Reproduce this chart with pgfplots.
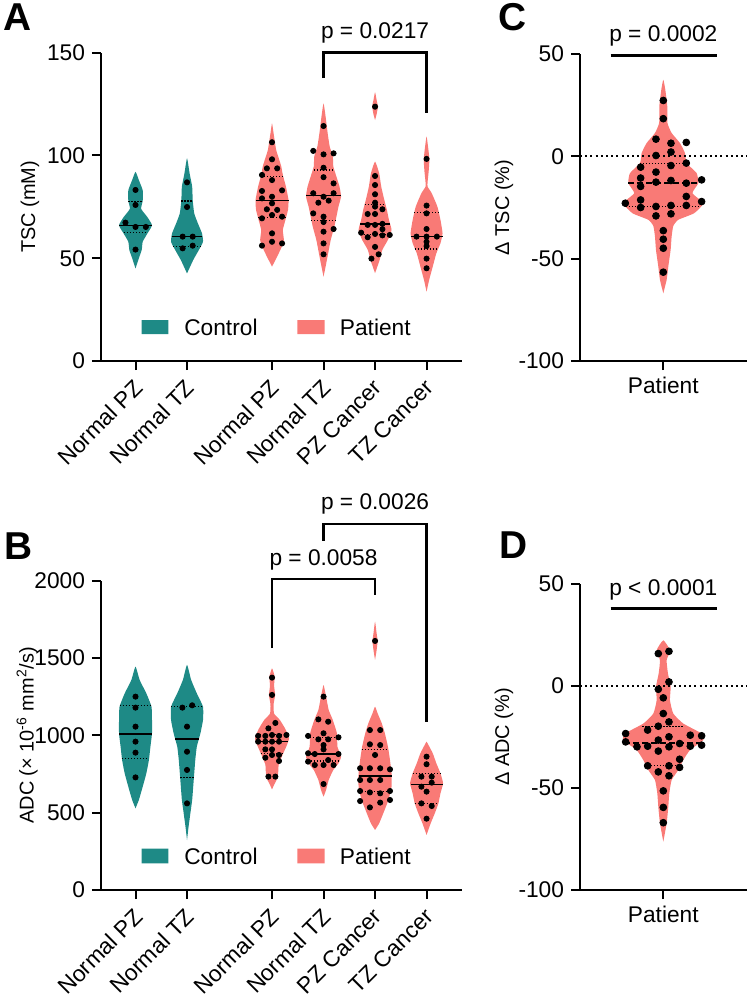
\documentclass[border=0pt]{standalone}
\usepackage{fontspec}
\setmainfont{Liberation Sans}
\usepackage{pgfplots}
\pgfplotsset{compat=1.18}
\usepackage{pgfplotstable}
\definecolor{ctrl}{HTML}{1E8A86}
\definecolor{pat}{HTML}{F97A76}
\newcommand\fsz{\fontsize{11.4}{13.6}\selectfont}
\newcommand\lsz{\bfseries\fontsize{19.5}{22}\selectfont}

% violin outlines as closed polygons: d = offset from the category centre, y = value
\pgfplotstableread[row sep=\\]{d y\\
0 45\\ 0.065 50\\ 0.12 54\\ 0.14 58\\ 0.23 62\\ 0.32 66\\ 0.23 70\\ 0.11 74\\ 0.14 78\\ 0.14 83\\ 0.065 88\\ 0 92\\
-0.065 88\\ -0.14 83\\ -0.14 78\\ -0.11 74\\ -0.23 70\\ -0.32 66\\ -0.23 62\\ -0.14 58\\ -0.12 54\\ -0.065 50\\ 0 45\\
}\aCPZ
\pgfplotstableread[row sep=\\]{d y\\
0 42.6\\ 0.12 49.1\\ 0.23 54\\ 0.31 58\\ 0.29 62.1\\ 0.21 67\\ 0.14 71.8\\ 0.11 78.3\\ 0.10 84.8\\ 0.05 91.3\\ 0 98.6\\
-0.05 91.3\\ -0.10 84.8\\ -0.11 78.3\\ -0.14 71.8\\ -0.21 67\\ -0.29 62.1\\ -0.31 58\\ -0.23 54\\ -0.12 49.1\\ 0 42.6\\
}\aCTZ
\pgfplotstableread[row sep=\\]{d y\\
0 45.9\\ 0.10 50.8\\ 0.19 55.6\\ 0.23 58.9\\ 0.21 63.7\\ 0.26 68.6\\ 0.31 73.5\\ 0.32 78.3\\ 0.27 84.8\\ 0.21 90.5\\ 0.18 94.6\\ 0.14 97.9\\ 0.08 102.7\\ 0.03 110.8\\ 0 115.6\\
-0.03 110.8\\ -0.08 102.7\\ -0.14 97.9\\ -0.18 94.6\\ -0.21 90.5\\ -0.27 84.8\\ -0.32 78.3\\ -0.31 73.5\\ -0.26 68.6\\ -0.21 63.7\\ -0.23 58.9\\ -0.19 55.6\\ -0.10 50.8\\ 0 45.9\\
}\aNPZ
\pgfplotstableread[row sep=\\]{d y\\
0 41\\ 0.04 45.9\\ 0.09 52.4\\ 0.14 58.9\\ 0.21 65.4\\ 0.25 70.2\\ 0.29 75.1\\ 0.34 80\\ 0.31 84.8\\ 0.25 89.7\\ 0.19 94.6\\ 0.18 99.5\\ 0.12 104.3\\ 0.08 110.8\\ 0.04 118.9\\ 0 125.3\\
-0.04 118.9\\ -0.08 110.8\\ -0.12 104.3\\ -0.18 99.5\\ -0.19 94.6\\ -0.25 89.7\\ -0.31 84.8\\ -0.34 80\\ -0.29 75.1\\ -0.25 70.2\\ -0.21 65.4\\ -0.14 58.9\\ -0.09 52.4\\ -0.04 45.9\\ 0 41\\
}\aNTZ
\pgfplotstableread[row sep=\\]{d y\\
0 42.7\\ 0.09 49.2\\ 0.14 54\\ 0.25 58.9\\ 0.32 63.7\\ 0.27 68.6\\ 0.23 73.5\\ 0.18 78.3\\ 0.12 84.8\\ 0.08 91.3\\ 0 97\\
-0.08 91.3\\ -0.12 84.8\\ -0.18 78.3\\ -0.23 73.5\\ -0.27 68.6\\ -0.32 63.7\\ -0.25 58.9\\ -0.14 54\\ -0.09 49.2\\ 0 42.7\\
}\aPZC
\pgfplotstableread[row sep=\\]{d y\\
0 117.2\\ 0.03 120\\ 0.055 123.7\\ 0.03 127\\ 0 130.7\\ -0.03 127\\ -0.055 123.7\\ -0.03 120\\ 0 117.2\\
}\aPZCo
\pgfplotstableread[row sep=\\]{d y\\
0 33.7\\ 0.05 39.4\\ 0.12 45.9\\ 0.19 52.4\\ 0.27 57.3\\ 0.31 62.1\\ 0.27 68.6\\ 0.21 75.1\\ 0.10 81.6\\ 0.02 84.8\\ 0.02 87\\ 0.04 92\\ 0.055 98\\ 0.03 104\\ 0 109.2\\
-0.03 104\\ -0.055 98\\ -0.04 92\\ -0.02 87\\ -0.02 84.8\\ -0.10 81.6\\ -0.21 75.1\\ -0.27 68.6\\ -0.31 62.1\\ -0.27 57.3\\ -0.19 52.4\\ -0.12 45.9\\ -0.05 39.4\\ 0 33.7\\
}\aTZC
\pgfplotstableread[row sep=\\]{d y\\
0 528\\ 0.065 582\\ 0.14 668\\ 0.21 754\\ 0.26 840\\ 0.29 927\\ 0.32 1013\\ 0.32 1099\\ 0.31 1185\\ 0.21 1271\\ 0.08 1358\\ 0 1444\\
-0.08 1358\\ -0.21 1271\\ -0.31 1185\\ -0.32 1099\\ -0.32 1013\\ -0.29 927\\ -0.26 840\\ -0.21 754\\ -0.14 668\\ -0.065 582\\ 0 528\\
}\bCPZ
\pgfplotstableread[row sep=\\]{d y\\
0 323\\ 0.03 409\\ 0.065 496\\ 0.10 582\\ 0.12 668\\ 0.14 754\\ 0.16 840\\ 0.19 927\\ 0.26 1013\\ 0.31 1099\\ 0.31 1185\\ 0.19 1271\\ 0.08 1358\\ 0 1455\\
-0.08 1358\\ -0.19 1271\\ -0.31 1185\\ -0.31 1099\\ -0.26 1013\\ -0.19 927\\ -0.16 840\\ -0.14 754\\ -0.12 668\\ -0.10 582\\ -0.065 496\\ -0.03 409\\ 0 323\\
}\bCTZ
\pgfplotstableread[row sep=\\]{d y\\
0 650\\ 0.04 680\\ 0.10 720\\ 0.12 760\\ 0.13 810\\ 0.20 870\\ 0.28 930\\ 0.33 980\\ 0.26 1040\\ 0.15 1100\\ 0.04 1140\\ 0.03 1200\\ 0.06 1260\\ 0.04 1320\\ 0.05 1380\\ 0 1433\\
-0.05 1380\\ -0.04 1320\\ -0.06 1260\\ -0.03 1200\\ -0.04 1140\\ -0.15 1100\\ -0.26 1040\\ -0.33 980\\ -0.28 930\\ -0.20 870\\ -0.13 810\\ -0.12 760\\ -0.10 720\\ -0.04 680\\ 0 650\\
}\bNPZ
\pgfplotstableread[row sep=\\]{d y\\
0 603\\ 0.05 647\\ 0.10 711\\ 0.19 776\\ 0.29 819\\ 0.34 862\\ 0.27 927\\ 0.26 1013\\ 0.18 1099\\ 0.10 1164\\ 0.05 1250\\ 0.01 1315\\ 0 1325\\
-0.01 1315\\ -0.05 1250\\ -0.10 1164\\ -0.18 1099\\ -0.26 1013\\ -0.27 927\\ -0.34 862\\ -0.29 819\\ -0.19 776\\ -0.10 711\\ -0.05 647\\ 0 603\\
}\bNTZ
\pgfplotstableread[row sep=\\]{d y\\
0 388\\ 0.08 431\\ 0.16 496\\ 0.26 582\\ 0.32 668\\ 0.32 754\\ 0.29 840\\ 0.25 927\\ 0.19 1013\\ 0.13 1078\\ 0.05 1142\\ 0 1185\\
-0.05 1142\\ -0.13 1078\\ -0.19 1013\\ -0.25 927\\ -0.29 840\\ -0.32 754\\ -0.32 668\\ -0.26 582\\ -0.16 496\\ -0.08 431\\ 0 388\\
}\bPZC
\pgfplotstableread[row sep=\\]{d y\\
0 1487\\ 0.03 1550\\ 0.05 1610\\ 0.03 1660\\ 0 1735\\ -0.03 1660\\ -0.05 1610\\ -0.03 1550\\ 0 1487\\
}\bPZCo
\pgfplotstableread[row sep=\\]{d y\\
0 356\\ 0.08 431\\ 0.16 496\\ 0.23 560\\ 0.27 625\\ 0.32 690\\ 0.27 754\\ 0.19 819\\ 0.12 884\\ 0.02 948\\ 0 959\\
-0.02 948\\ -0.12 884\\ -0.19 819\\ -0.27 754\\ -0.32 690\\ -0.27 625\\ -0.23 560\\ -0.16 496\\ -0.08 431\\ 0 356\\
}\bTZC
\pgfplotstableread[row sep=\\]{d y\\
0 -66.9\\ 0.04 -60.4\\ 0.06 -53.9\\ 0.088 -45.7\\ 0.10 -39.2\\ 0.12 -34\\ 0.18 -31\\ 0.37 -27.8\\ 0.48 -22.9\\ 0.35 -18\\ 0.42 -13.1\\ 0.40 -8.2\\ 0.28 -3.3\\ 0.26 1.6\\ 0.20 6.5\\ 0.10 11.4\\ 0.05 16.3\\ 0.048 24.4\\ 0.024 32.6\\ 0 37.4\\
-0.024 32.6\\ -0.048 24.4\\ -0.05 16.3\\ -0.10 11.4\\ -0.20 6.5\\ -0.26 1.6\\ -0.28 -3.3\\ -0.40 -8.2\\ -0.42 -13.1\\ -0.35 -18\\ -0.48 -22.9\\ -0.37 -27.8\\ -0.18 -31\\ -0.12 -34\\ -0.10 -39.2\\ -0.088 -45.7\\ -0.06 -53.9\\ -0.04 -60.4\\ 0 -66.9\\
}\cDT
\pgfplotstableread[row sep=\\]{d y\\
0 -76.3\\ 0.04 -67.3\\ 0.06 -59.2\\ 0.072 -52.6\\ 0.10 -46.1\\ 0.18 -41.2\\ 0.24 -36.3\\ 0.32 -31.4\\ 0.48 -26.5\\ 0.46 -23.3\\ 0.24 -18.4\\ 0.12 -13.5\\ 0.08 -7\\ 0.088 -0.4\\ 0.056 6.1\\ 0.04 12.6\\ 0.08 17.5\\ 0 22.4\\
-0.08 17.5\\ -0.04 12.6\\ -0.056 6.1\\ -0.088 -0.4\\ -0.08 -7\\ -0.12 -13.5\\ -0.24 -18.4\\ -0.46 -23.3\\ -0.48 -26.5\\ -0.32 -31.4\\ -0.24 -36.3\\ -0.18 -41.2\\ -0.10 -46.1\\ -0.072 -52.6\\ -0.06 -59.2\\ -0.04 -67.3\\ 0 -76.3\\
}\dDA

\newcommand{\violin}[3]{%
  \addplot[fill=#3, draw=none, smooth, tension=0.3, forget plot] table[x expr=#1+\thisrow{d}, y=y] {#2};
}

\pgfplotsset{
  panel/.style={
    scale only axis, clip=false,
    axis lines*=left, axis line style={-, line width=1bp, black},
    tick style={line width=1bp, black}, tick align=outside,
    major tick length=4.5bp,
    every tick label/.append style={font=\fsz},
    label style={font=\fsz},
    /pgf/number format/assume math mode=true,
    /pgf/number format/1000 sep={},
    enlargelimits=false,
  },
  med/.style={line width=0.75bp, black, forget plot},
  mdash/.style={line width=0.75bp, black, dash pattern=on 3bp off 1.5bp, forget plot},
  qrt/.style={line width=0.55bp, black, dash pattern=on 0.6bp off 0.9bp, forget plot},
  dots/.style={only marks, mark=*, mark size=1.3bp, black, forget plot},
  bigdots/.style={only marks, mark=*, mark size=1.7bp, black, forget plot},
  brk/.style={line width=1.2bp, black, sharp plot, forget plot},
  cats/.style={xmin=0, xmax=7,
    xtick={0.67,1.67,3.32,4.32,5.32,6.32},
    xticklabels={Normal PZ, Normal TZ, Normal PZ, Normal TZ, PZ Cancer, TZ Cancer},
    xticklabel style={xshift=-1.5bp, yshift=-2.5bp, rotate=45, anchor=north east, inner sep=1bp},
  },
}

\begin{document}
\begin{tikzpicture}
\path[use as bounding box] (0,0) rectangle (375bp,-499bp);

% ---------------- Panel A ----------------
\begin{axis}[panel, cats, at={(50.5bp,-180.5bp)}, anchor=south west,
  width=180.3bp, height=154.2bp, ymin=0, ymax=150, ytick={0,50,100,150},
  ylabel={TSC (mM)},
  every axis y label/.style={at={(axis description cs:-0.197,0.5)}, rotate=90, anchor=center}]
\violin{0.67}{\aCPZ}{ctrl}
\violin{1.67}{\aCTZ}{ctrl}
\violin{3.32}{\aNPZ}{pat}
\violin{4.32}{\aNTZ}{pat}
\violin{5.32}{\aPZC}{pat}
\violin{5.32}{\aPZCo}{pat}
\violin{6.32}{\aTZC}{pat}
\addplot[med] coordinates {(0.35,65.8) (0.99,65.8)};
\addplot[qrt] coordinates {(0.53,77.7) (0.81,77.7)};
\addplot[qrt] coordinates {(0.45,62.4) (0.89,62.4)};
\addplot[med] coordinates {(1.37,60.5) (1.97,60.5)};
\addplot[qrt] coordinates {(1.56,77.8) (1.78,77.8)};
\addplot[qrt] coordinates {(1.40,55.9) (1.94,55.9)};
\addplot[med] coordinates {(3.00,78.0) (3.64,78.0)};
\addplot[qrt] coordinates {(3.11,89.8) (3.53,89.8)};
\addplot[qrt] coordinates {(3.05,69.7) (3.59,69.7)};
\addplot[med] coordinates {(3.98,80.4) (4.66,80.4)};
\addplot[qrt] coordinates {(4.13,92.9) (4.51,92.9)};
\addplot[qrt] coordinates {(4.08,68.2) (4.56,68.2)};
\addplot[med] coordinates {(5.03,66.7) (5.61,66.7)};
\addplot[qrt] coordinates {(5.12,76.3) (5.52,76.3)};
\addplot[qrt] coordinates {(5.04,61.4) (5.60,61.4)};
\addplot[med] coordinates {(6.01,60.5) (6.63,60.5)};
\addplot[qrt] coordinates {(6.08,72.3) (6.56,72.3)};
\addplot[qrt] coordinates {(6.09,54.5) (6.55,54.5)};
\addplot[dots] coordinates {(0.67,83.2) (0.67,75.9) (0.475,67.3) (0.67,65.2) (0.87,65.2) (0.67,54.2)};
\addplot[dots] coordinates {(1.67,86.9) (1.67,74.9) (1.585,60.5) (1.78,60.5) (1.585,54.8) (1.78,56.1)};
\addplot[dots] coordinates {(3.32,106.4) (3.32,98.1) (3.22,93.7) (3.42,93.7) (3.125,90.5) (3.32,88.0) (3.125,82.7) (3.515,83.0) (3.125,79.1) (3.32,79.9) (3.32,76.7) (3.22,73.8) (3.42,73.5) (3.32,71.0) (3.515,70.2) (3.125,69.4) (3.32,62.1) (3.32,58.0) (3.125,56.1) (3.515,57.2)};
\addplot[dots] coordinates {(4.32,114.3) (4.12,102.2) (4.32,100.5) (4.515,101.0) (4.32,94.0) (4.32,89.4) (4.515,86.4) (4.12,81.6) (4.32,79.9) (4.515,81.6) (4.42,78.0) (4.22,77.0) (4.12,71.8) (4.32,70.2) (4.32,67.6) (4.515,64.2) (4.32,62.9) (4.32,57.2) (4.32,51.9)};
\addplot[dots] coordinates {(5.32,123.7) (5.32,90.0) (5.32,85.6) (5.32,81.1) (5.32,77.0) (5.32,75.1) (5.463,73.8) (5.177,71.5) (5.32,71.5) (5.177,66.2) (5.32,66.2) (5.463,66.7) (5.05,62.4) (5.177,60.2) (5.32,61.8) (5.463,64.1) (5.463,61.1) (5.605,61.3) (5.32,55.5) (5.39,51.9) (5.25,49.8)};
\addplot[dots] coordinates {(6.32,98.3) (6.32,75.6) (6.32,71.8) (6.32,64.2) (6.125,60.5) (6.32,60.5) (6.52,60.5) (6.32,58.0) (6.32,55.9) (6.32,49.8) (6.32,45.1)};
\addplot[brk] coordinates {(4.32,137.6) (4.32,150) (6.32,150) (6.32,120.5)};
\node[font=\fsz] at (axis cs:5.32,159.6) {p = 0.0217};
% legend
\addplot[fill=ctrl, draw=none, forget plot] coordinates {(0.79,13.1) (1.31,13.1) (1.31,19.9) (0.79,19.9) (0.79,13.1)};
\node[font=\fsz, anchor=west, inner sep=0pt] at (axis cs:1.61,16.5) {Control};
\addplot[fill=pat, draw=none, forget plot] coordinates {(3.81,13.1) (4.34,13.1) (4.34,19.9) (3.81,19.9) (3.81,13.1)};
\node[font=\fsz, anchor=west, inner sep=0pt] at (axis cs:4.63,16.5) {Patient};
\end{axis}

% ---------------- Panel B ----------------
\begin{axis}[panel, cats, at={(50.5bp,-445bp)}, anchor=south west,
  width=180.3bp, height=154.7bp, ymin=0, ymax=2000, ytick={0,500,1000,1500,2000},
  ylabel={ADC (× 10\textsuperscript{-6} mm\textsuperscript{2}/s)},
  every axis y label/.style={at={(axis description cs:-0.205,0.5)}, rotate=90, anchor=center}]
\violin{0.67}{\bCPZ}{ctrl}
\violin{1.67}{\bCTZ}{ctrl}
\violin{3.32}{\bNPZ}{pat}
\violin{4.32}{\bNTZ}{pat}
\violin{5.32}{\bPZC}{pat}
\violin{5.32}{\bPZCo}{pat}
\violin{6.32}{\bTZC}{pat}
\addplot[med] coordinates {(0.35,1008) (0.99,1008)};
\addplot[qrt] coordinates {(0.36,1194) (0.98,1194)};
\addplot[qrt] coordinates {(0.41,849) (0.93,849)};
\addplot[med] coordinates {(1.44,976) (1.90,976)};
\addplot[qrt] coordinates {(1.36,1185) (1.98,1185)};
\addplot[qrt] coordinates {(1.54,726) (1.80,726)};
\addplot[med] coordinates {(3.01,959) (3.63,959)};
\addplot[qrt] coordinates {(3.02,1006) (3.62,1006)};
\addplot[qrt] coordinates {(3.10,884) (3.54,884)};
\addplot[med] coordinates {(4.00,879) (4.64,879)};
\addplot[qrt] coordinates {(4.06,985) (4.58,985)};
\addplot[qrt] coordinates {(4.01,834) (4.63,834)};
\addplot[med] coordinates {(5.00,737) (5.64,737)};
\addplot[qrt] coordinates {(5.06,909) (5.58,909)};
\addplot[qrt] coordinates {(5.00,636) (5.64,636)};
\addplot[med] coordinates {(6.01,681) (6.63,681)};
\addplot[qrt] coordinates {(6.05,754) (6.59,754)};
\addplot[qrt] coordinates {(6.09,560) (6.55,560)};
\addplot[dots] coordinates {(0.67,1250) (0.67,1179) (0.67,1056) (0.67,959) (0.67,888) (0.67,728)};
\addplot[dots] coordinates {(1.58,1179) (1.77,1194) (1.67,1056) (1.67,894) (1.67,776) (1.67,560)};
\addplot[dots] coordinates {(3.32,1373) (3.32,1261) (3.385,1080) (3.25,1045) (3.05,996) (3.19,996) (3.32,1002) (3.456,996) (3.6,1002) (3.05,959) (3.19,959) (3.32,959) (3.456,959) (3.19,909) (3.32,909) (3.19,855) (3.32,873) (3.456,873) (3.456,834) (3.25,733) (3.385,733)};
\addplot[dots] coordinates {(4.32,1250) (4.22,1103) (4.41,1088) (4.32,1013) (4.02,996) (4.61,987) (4.22,974) (4.41,974) (4.32,937) (4.02,884) (4.15,879) (4.32,909) (4.61,879) (4.02,830) (4.15,808) (4.32,808) (4.515,808) (4.41,840) (4.32,685)};
\addplot[dots] coordinates {(5.32,1610) (5.22,1034) (5.42,1034) (5.22,942) (5.42,937) (5.32,873) (5.03,787) (5.22,787) (5.42,787) (5.61,780) (5.03,711) (5.22,711) (5.42,711) (5.03,640) (5.22,631) (5.42,625) (5.61,640) (5.03,575) (5.61,582) (5.42,565) (5.22,534)};
\addplot[dots] coordinates {(6.32,862) (6.32,813) (6.22,733) (6.42,733) (6.42,694) (6.22,668) (6.32,636) (6.22,560) (6.42,543) (6.32,461)};
\addplot[brk] coordinates {(3.32,1563) (3.32,2009) (5.32,2009) (5.32,1907)};
\node[font=\fsz] at (axis cs:4.32,2134) {p = 0.0058};
\addplot[brk] coordinates {(4.32,2257) (4.32,2364) (6.32,2364) (6.32,1088)};
\node[font=\fsz] at (axis cs:5.32,2496) {p = 0.0026};
\addplot[fill=ctrl, draw=none, forget plot] coordinates {(0.79,172) (1.31,172) (1.31,268) (0.79,268) (0.79,172)};
\node[font=\fsz, anchor=west, inner sep=0pt] at (axis cs:1.61,220) {Control};
\addplot[fill=pat, draw=none, forget plot] coordinates {(3.81,172) (4.34,172) (4.34,268) (3.81,268) (3.81,172)};
\node[font=\fsz, anchor=west, inner sep=0pt] at (axis cs:4.63,220) {Patient};
\end{axis}

% ---------------- Panel C ----------------
\begin{axis}[panel, at={(290bp,-180.5bp)}, anchor=south west,
  width=83.3bp, height=153.5bp, xmin=0, xmax=2, ymin=-100, ymax=50,
  ytick={-100,-50,0,50}, xtick={1}, xticklabels={Patient},
  ylabel={Δ TSC (\%)},
  every axis y label/.style={at={(axis description cs:-0.456,0.5)}, rotate=90, anchor=center}]
\violin{1}{\cDT}{pat}
\addplot[line width=1bp, black, dash pattern=on 1bp off 1.6bp, forget plot] coordinates {(0,0) (2,0)};
\addplot[mdash] coordinates {(0.58,-13.1) (1.42,-13.1)};
\addplot[qrt] coordinates {(0.72,-3.3) (1.28,-3.3)};
\addplot[qrt] coordinates {(0.55,-24.5) (1.45,-24.5)};
\addplot[bigdots] coordinates {(1,27.3) (1,18.4) (0.912,8.4) (1.092,6.4) (1.276,6.8) (1.092,2.1) (0.912,0.4) (1.276,-3.3) (1.092,-4.5) (0.728,-5.3) (0.912,-7.7) (0.728,-10.6) (0.912,-12.6) (1.092,-11.8) (1.276,-13.1) (1.46,-11.5) (0.728,-14.7) (1.276,-19.6) (0.728,-21.3) (0.544,-22.9) (1.46,-22.1) (0.728,-25.0) (0.912,-24.5) (1.092,-24.0) (1.276,-24.0) (0.912,-29.1) (1.092,-28.1) (1,-36.3) (1,-40.5) (1,-44.9) (1,-56.6)};
\addplot[brk] coordinates {(0.368,49.2) (1.64,49.2)};
\node[font=\fsz] at (axis cs:1,58.6) {p = 0.0002};
\end{axis}

% ---------------- Panel D ----------------
\begin{axis}[panel, at={(290bp,-445bp)}, anchor=south west,
  width=83.3bp, height=153bp, xmin=0, xmax=2, ymin=-100, ymax=50,
  ytick={-100,-50,0,50}, xtick={1}, xticklabels={Patient},
  ylabel={Δ ADC (\%)},
  every axis y label/.style={at={(axis description cs:-0.456,0.5)}, rotate=90, anchor=center}]
\violin{1}{\dDA}{pat}
\addplot[line width=1bp, black, dash pattern=on 1bp off 1.6bp, forget plot] coordinates {(0,0) (2,0)};
\addplot[mdash] coordinates {(0.53,-27.9) (1.47,-27.9)};
\addplot[qrt] coordinates {(0.75,-19.7) (1.25,-19.7)};
\addplot[qrt] coordinates {(0.78,-39.1) (1.22,-39.1)};
\addplot[bigdots] coordinates {(0.94,15.9) (1.068,17.0) (1.068,2.0) (0.94,-1.6) (1,-5.8) (1,-13.5) (1.068,-17.6) (0.94,-19.7) (0.812,-21.6) (0.548,-23.3) (1.324,-24.1) (1.46,-24.4) (1.068,-24.9) (0.94,-26.5) (0.548,-27.4) (1.196,-28.2) (0.684,-29.8) (0.812,-29.5) (1.068,-29.8) (1.324,-29.5) (1.46,-29.0) (0.94,-31.9) (1.196,-35.9) (0.812,-39.1) (1.068,-39.1) (1.196,-39.9) (0.94,-42.1) (1.068,-44.0) (1,-51.4) (1,-59.5) (1,-67.0)};
\addplot[brk] coordinates {(0.368,37.9) (1.64,37.9)};
\node[font=\fsz] at (axis cs:1,46.9) {p < 0.0001};
\end{axis}

\node[font=\lsz, inner sep=0pt] at (8.75bp,-8.5bp) {A};
\node[font=\lsz, inner sep=0pt] at (9.5bp,-273bp) {B};
\node[font=\lsz, inner sep=0pt] at (256.25bp,-8.35bp) {C};
\node[font=\lsz, inner sep=0pt] at (256.75bp,-272.5bp) {D};
\end{tikzpicture}
\end{document}
